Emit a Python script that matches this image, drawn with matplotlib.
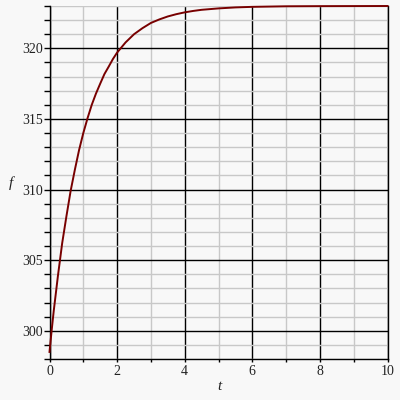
import matplotlib
matplotlib.use('Agg')
import matplotlib.pyplot as plt
from matplotlib.ticker import MultipleLocator

# values
t_vals = [0.0, 0.0625, 0.125, 0.25, 0.375, 0.5, 0.625, 0.75, 0.875, 1.0,
          1.125, 1.25, 1.375, 1.5, 1.625, 1.75, 1.875, 2.0, 2.25, 2.5, 2.75,
          3.0, 3.25, 3.5, 3.75, 4.0, 4.25, 4.5, 5.0, 5.5, 6.0, 7.0, 8.0, 10.0]
f_vals = [298.5, 300.0, 301.4, 303.9, 306.2, 308.1, 309.9, 311.4, 312.8,
          314.0, 315.05, 316.0, 316.8, 317.5, 318.18, 318.7, 319.24, 319.7,
          320.42, 321.0, 321.43, 321.8, 322.05, 322.26, 322.42, 322.55,
          322.65, 322.73, 322.83, 322.9, 322.94, 322.98, 322.99, 323.0]

x_ticks = [0, 2, 4, 6, 8, 10]
y_ticks = [300, 305, 310, 315, 320]

BG = '#f8f8f8'
CURVE = '#780000'

plt.rcParams.update({
    'font.family': 'Liberation Serif',
    'font.size': 10,
})

fig = plt.figure(figsize=(4, 4), dpi=100, facecolor=BG)
ax = fig.add_axes([49.5 / 400, 41 / 400, 338 / 400, 353 / 400], facecolor=BG)

ax.plot(t_vals, f_vals, color=CURVE, linewidth=1.4, zorder=3, clip_on=False)

ax.set_xlim(0, 10)
ax.set_ylim(298, 323)
ax.set_xticks(x_ticks)
ax.set_yticks(y_ticks)
ax.xaxis.set_minor_locator(MultipleLocator(1))
ax.yaxis.set_minor_locator(MultipleLocator(1))

ax.grid(True, which='minor', color='#c8c8c8', linewidth=1.0)
ax.grid(True, which='major', color='black', linewidth=1.0)
ax.set_axisbelow(True)

ax.spines['top'].set_visible(False)
for s in ['left', 'bottom', 'right']:
    ax.spines[s].set_color('black')
    ax.spines[s].set_linewidth(1.0)

ax.tick_params(axis='x', which='both', direction='out', length=2.5, width=1,
               pad=2, labelcolor='#222222')
ax.tick_params(axis='y', which='both', direction='out', length=4.5, width=1,
               pad=0.5, labelcolor='#222222')

fig.text(11 / 400, 1 - 183.5 / 400, 'f', style='italic', fontsize=11,
         ha='center', va='center', color='#222222')
fig.text(219 / 400, 1 - 387 / 400, 't', style='italic', fontsize=11,
         ha='center', va='center', color='#222222')

fig.savefig('out.png', dpi=100, facecolor=BG)
